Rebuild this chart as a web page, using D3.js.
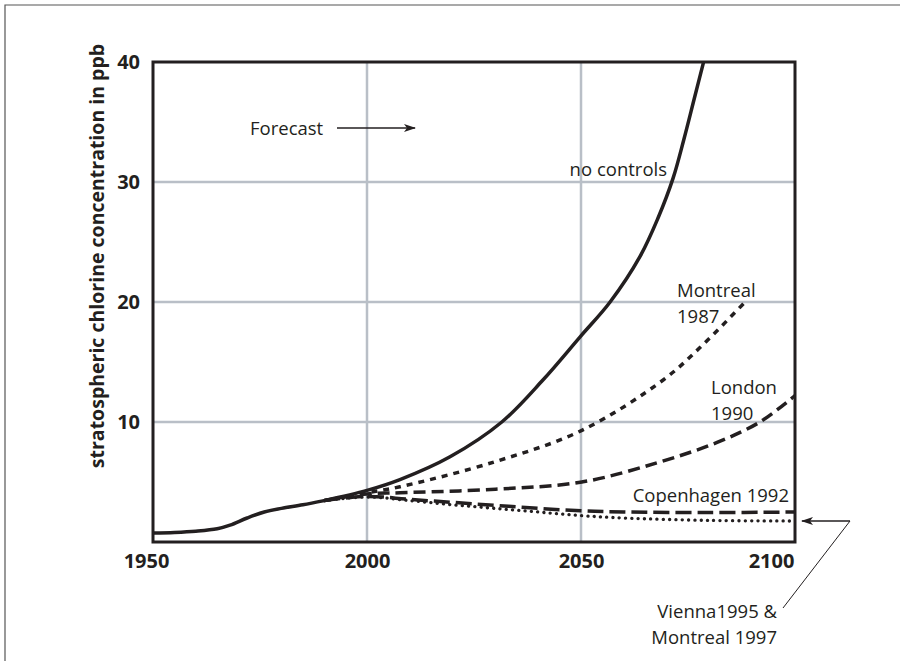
<!DOCTYPE html>
<html><head><meta charset="utf-8">
<script src="https://cdn.jsdelivr.net/npm/d3@7"></script>
<style>html,body{margin:0;padding:0;background:#fff;}svg{display:block;}</style>
</head><body>
<script>
// ---- data (ppb) ----
const xTicks = [1950, 2000, 2050, 2100];
const yTicks = [10, 20, 30, 40];
const historyYears = [1950, 1955, 1960, 1965, 1968, 1972, 1976, 1980, 1985, 1990];
const historyValues = [0.75, 0.8, 0.9, 1.1, 1.4, 2.0, 2.5, 2.8, 3.1, 3.45];
const noControlsYears = [1990, 2000, 2007.7, 2019.4, 2031.5, 2041.1, 2049.8, 2056.8, 2063.8, 2068, 2071.5, 2074, 2076.5, 2079];
const noControlsValues = [3.45, 4.3, 5.2, 7.1, 10, 13.5, 17.1, 20, 23.8, 27, 30.3, 33.5, 37, 40.5];
const montrealYears = [1990, 2000, 2007.7, 2030, 2050.2, 2069.2, 2077.8, 2088.6];
const montrealValues = [3.45, 4.1, 4.6, 6.7, 9.3, 13.5, 16.2, 20.1];
const londonYears = [1990, 2000, 2007.7, 2030, 2050.2, 2067.8, 2081.8, 2091.8, 2100];
const londonValues = [3.45, 4.0, 4.1, 4.4, 5.0, 6.6, 8.3, 10.0, 12.2];
const copenhagenYears = [1990, 2000, 2010, 2020, 2030, 2040, 2050, 2060, 2080, 2100];
const copenhagenValues = [3.45, 3.8, 3.55, 3.3, 3.05, 2.8, 2.6, 2.5, 2.45, 2.5];
const viennaYears = [1990, 2000, 2010, 2020, 2030, 2040, 2050, 2060, 2080, 2100];
const viennaValues = [3.45, 3.75, 3.45, 3.1, 2.8, 2.5, 2.2, 2.0, 1.8, 1.75];
const yLabel = "stratospheric chlorine concentration in ppb";

const W = 900, H = 661;
const svg = d3.select("body").append("svg").attr("width", W).attr("height", H);
const font = "'Open Sans', 'Noto Sans', sans-serif";
const ink = "#231f20";

// outer frame
svg.append("path").attr("d", `M5,${H} V5 H${W}`).attr("fill", "none").attr("stroke", "#555").attr("stroke-width", 1.2);

const x = d3.scaleLinear().domain([1950, 2100]).range([153, 795]);
const y = d3.scaleLinear().domain([0, 40]).range([542, 62]);

// grid
const grid = svg.append("g").attr("stroke", "#b9bfc7").attr("stroke-width", 2.5);
grid.selectAll("line.v").data([2000, 2050]).join("line")
  .attr("x1", d => x(d)).attr("x2", d => x(d)).attr("y1", y(40)).attr("y2", y(0));
grid.selectAll("line.h").data([10, 20, 30]).join("line")
  .attr("x1", x(1950)).attr("x2", x(2100)).attr("y1", d => y(d)).attr("y2", d => y(d));

// axes (labels only)
const yAxis = svg.append("g").attr("transform", `translate(${x(1950)},0)`)
  .call(d3.axisLeft(y).tickValues(yTicks).tickSize(0).tickPadding(13));
yAxis.select(".domain").remove();
yAxis.selectAll("text").attr("font-family", font).attr("font-weight", "bold").attr("font-size", 20).attr("fill", ink);

const xAxis = svg.append("g").attr("transform", `translate(0,${y(0)})`)
  .call(d3.axisBottom(x).tickValues(xTicks).tickSize(0).tickPadding(12).tickFormat(d3.format("d")));
xAxis.select(".domain").remove();
xAxis.selectAll("text").attr("font-family", font).attr("font-weight", "bold").attr("font-size", 20).attr("fill", ink)
  .attr("dx", d => d === 1950 ? -7 : d === 2100 ? -24 : 0);

// y label
svg.append("text").attr("transform", `translate(104,256) rotate(-90)`).attr("text-anchor", "middle")
  .attr("font-family", font).attr("font-weight", "bold").attr("font-size", 19.5).attr("fill", ink).text(yLabel);

// clip
svg.append("clipPath").attr("id", "clip").append("rect")
  .attr("x", x(1950)).attr("y", y(40)).attr("width", x(2100) - x(1950)).attr("height", y(0) - y(40));

const line = d3.line().x(d => x(d[0])).y(d => y(d[1])).curve(d3.curveCatmullRom.alpha(0.5));
const zip = (a, b) => a.map((v, i) => [v, b[i]]);
const lines = svg.append("g").attr("clip-path", "url(#clip)").attr("fill", "none").attr("stroke", ink);

lines.append("path").attr("d", line(zip(viennaYears, viennaValues))).attr("stroke-width", 3.3)
  .attr("stroke-linecap", "round").attr("stroke-dasharray", "0.1,6.2");
lines.append("path").attr("d", line(zip(copenhagenYears, copenhagenValues))).attr("stroke-width", 3.5)
  .attr("stroke-dasharray", "16,6");
lines.append("path").attr("d", line(zip(londonYears, londonValues))).attr("stroke-width", 3.5)
  .attr("stroke-dasharray", "12,6");
lines.append("path").attr("d", line(zip(montrealYears, montrealValues))).attr("stroke-width", 3.5)
  .attr("stroke-dasharray", "6,6");
lines.append("path").attr("d", line(zip(noControlsYears, noControlsValues))).attr("stroke-width", 3.5);
lines.append("path").attr("d", line(zip(historyYears, historyValues))).attr("stroke-width", 3.5);

// plot frame
svg.append("rect").attr("x", x(1950)).attr("y", y(40)).attr("width", x(2100) - x(1950)).attr("height", y(0) - y(40))
  .attr("fill", "none").attr("stroke", ink).attr("stroke-width", 3);

// annotations
const ann = (t, xx, yy, anchor = "start") => svg.append("text").attr("x", xx).attr("y", yy)
  .attr("text-anchor", anchor).attr("font-family", font).attr("font-size", 18.5).attr("fill", ink).text(t);
ann("Forecast", 250, 135);
ann("no controls", 667, 176, "end");
ann("Montreal", 677, 297);
ann("1987", 677, 323);
ann("London", 711, 394);
ann("1990", 711, 420);
ann("Copenhagen 1992", 789, 502, "end");
ann("Vienna1995 &", 777, 618, "end");
ann("Montreal 1997", 777, 644, "end");

// arrows
svg.append("defs").html(`<marker id="ah" viewBox="0 0 12 8" refX="11" refY="4" markerWidth="12" markerHeight="8" markerUnits="userSpaceOnUse" orient="auto"><path d="M0,0 L12,4 L0,8 L3,4 Z" fill="${ink}"/></marker>`);
svg.append("line").attr("x1", 337).attr("x2", 415).attr("y1", 128).attr("y2", 128)
  .attr("stroke", ink).attr("stroke-width", 1.3).attr("marker-end", "url(#ah)");
svg.append("line").attr("x1", 850).attr("x2", 802).attr("y1", 521).attr("y2", 521)
  .attr("stroke", ink).attr("stroke-width", 1.3).attr("marker-end", "url(#ah)");
svg.append("line").attr("x1", 850).attr("x2", 783).attr("y1", 521).attr("y2", 608)
  .attr("stroke", ink).attr("stroke-width", 1);
</script>
</body></html>
